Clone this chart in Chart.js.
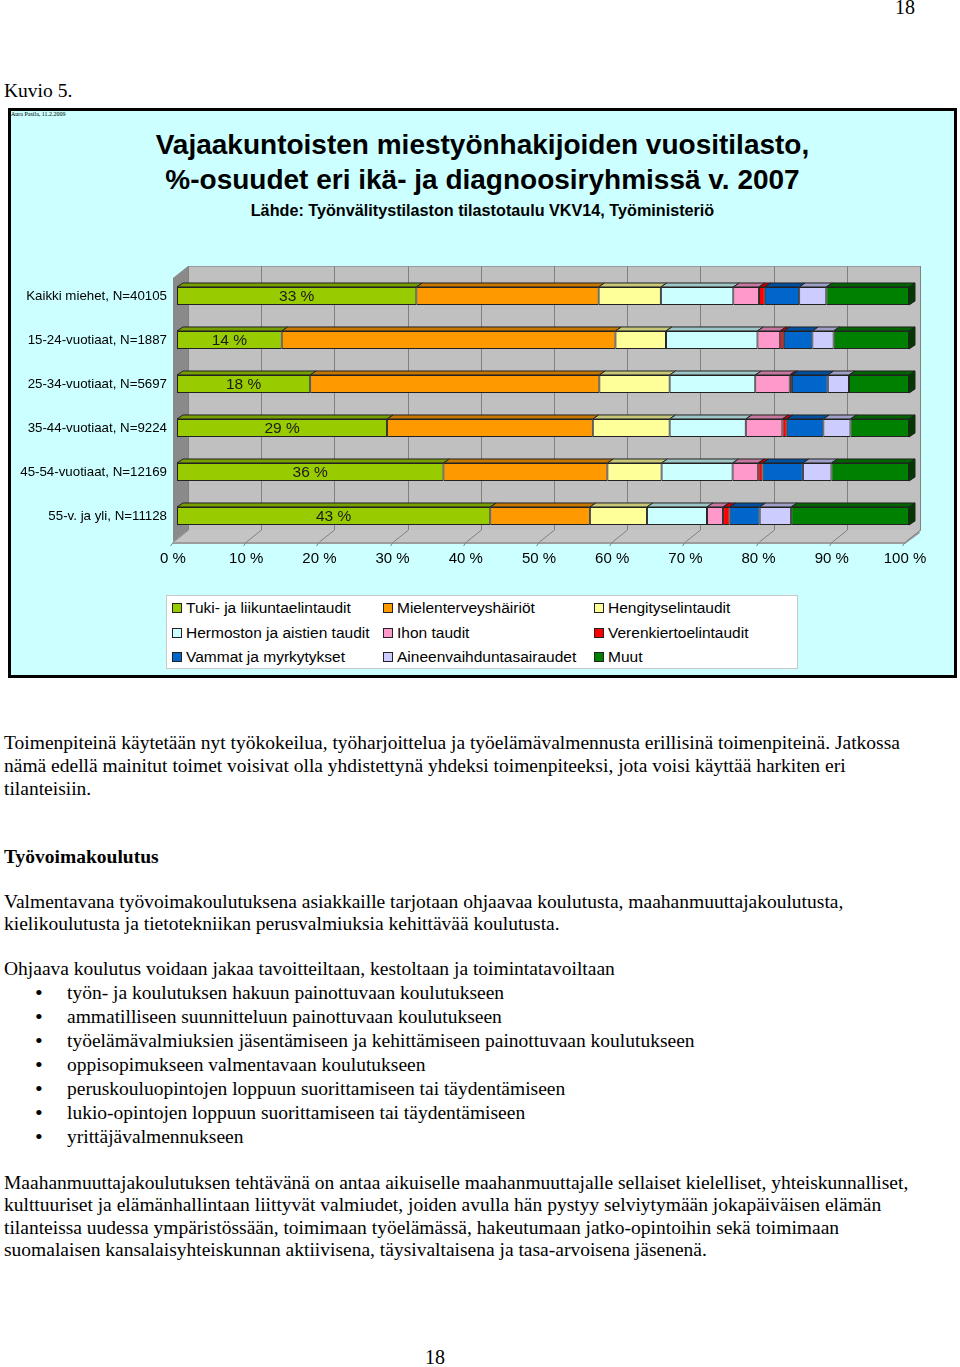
<!DOCTYPE html>
<html>
<head>
<meta charset="utf-8">
<script src="https://cdn.jsdelivr.net/npm/chart.js@4.4.1/dist/chart.umd.min.js"></script>
<style>
  html, body { margin: 0; padding: 0; background: #fff; }
  body { width: 960px; height: 1367px; position: relative; overflow: hidden; font-family: "Liberation Serif", "Times New Roman", serif; color: #000; }
  .abs { position: absolute; white-space: nowrap; }
  .serif { font-family: "Liberation Serif", serif; font-size: 19.5px; line-height: 22px; }
  #box { position: absolute; left: 8px; top: 108px; width: 943px; height: 564px; border: 3px solid #000; background: #CCFFFF; }
  .ttl { position: absolute; left: 0; width: 943px; text-align: center; font-family: "Liberation Sans", Arial, sans-serif; font-weight: bold; color: #000; }
  #chartWrap { position: absolute; left: 0; top: 230px; width: 960px; height: 360px; }
  #legend { position: absolute; left: 166px; top: 595px; width: 630px; height: 72px; background: #fff; border: 1px solid #c8c8c8; font-family: "Liberation Sans", Arial, sans-serif; font-size: 15.5px; }
  .li { position: absolute; white-space: nowrap; line-height: 18px; }
  .sw { display: inline-block; width: 8px; height: 8px; border: 1px solid #222; margin-right: 4px; vertical-align: 0px; }
</style>
</head>
<body>
<script>
// ---- DATA ----
const categories = [
  'Kaikki miehet, N=40105',
  '15-24-vuotiaat, N=1887',
  '25-34-vuotiaat, N=5697',
  '35-44-vuotiaat, N=9224',
  '45-54-vuotiaat, N=12169',
  '55-v. ja yli, N=11128'
];
const seriesNames = [
  'Tuki- ja liikuntaelintaudit',
  'Mielenterveyshäiriöt',
  'Hengityselintaudit',
  'Hermoston ja aistien taudit',
  'Ihon taudit',
  'Verenkiertoelintaudit',
  'Vammat ja myrkytykset',
  'Aineenvaihduntasairaudet',
  'Muut'
];
const tuki          = [32.7, 14.3, 18.2, 28.7, 36.4, 42.8];
const mielenterveys = [24.9, 45.6, 39.5, 28.1, 22.4, 13.6];
const hengitys      = [8.5, 6.9, 9.6, 10.5, 7.4, 7.8];
const hermosto      = [9.9, 12.5, 11.7, 10.4, 9.7, 8.2];
const iho           = [3.5, 3.1, 4.7, 5.0, 3.5, 2.2];
const verenkierto   = [0.8, 0.5, 0.3, 0.6, 0.6, 0.9];
const vammat        = [4.7, 3.9, 4.9, 5.0, 5.5, 4.1];
const aineenvaihdunta = [3.7, 2.9, 2.9, 3.7, 3.9, 4.3];
const muut          = [11.3, 10.3, 8.2, 8.0, 10.6, 16.1];
const seriesColors = ['#99CC00', '#FF9900', '#FFFF99', '#CCFFFF', '#FF99CC', '#FF0000', '#0066CC', '#CCCCFF', '#008000'];
const xTickLabels = ['0 %', '10 %', '20 %', '30 %', '40 %', '50 %', '60 %', '70 %', '80 %', '90 %', '100 %'];
</script>

<div class="abs" style="left:895px; top:-4px; font-size:20px;">18</div>
<div class="abs" style="left:4px; top:80px; font-size:19.5px;">Kuvio 5.</div>

<div id="box">
  <div class="abs" style="left:0px; top:0px; font-size:6px; font-family:'Liberation Serif',serif;">Aura Pasila, 11.2.2009</div>
  <div class="ttl" style="top:17px; font-size:28px; line-height:34px;">Vajaakuntoisten miestyönhakijoiden vuositilasto,</div>
  <div class="ttl" style="top:52px; font-size:28px; line-height:34px;">%-osuudet eri ikä- ja diagnoosiryhmissä v. 2007</div>
  <div class="ttl" style="top:89px; font-size:16.2px; line-height:20px;">Lähde: Työnvälitystilaston tilastotaulu VKV14, Työministeriö</div>
</div>

<div id="chartWrap"><canvas id="c" width="960" height="360"></canvas></div>
<div id="legend"></div>

<div class="abs serif" style="left:4px; top:732px;">Toimenpiteinä käytetään nyt työkokeilua, työharjoittelua ja työelämävalmennusta erillisinä toimenpiteinä. Jatkossa</div>
<div class="abs serif" style="left:4px; top:755px;">nämä edellä mainitut toimet voisivat olla yhdistettynä yhdeksi toimenpiteeksi, jota voisi käyttää harkiten eri</div>
<div class="abs serif" style="left:4px; top:778px;">tilanteisiin.</div>

<div class="abs serif" style="left:4px; top:846px; font-weight:bold;">Työvoimakoulutus</div>

<div class="abs serif" style="left:4px; top:891px;">Valmentavana työvoimakoulutuksena asiakkaille tarjotaan ohjaavaa koulutusta, maahanmuuttajakoulutusta,</div>
<div class="abs serif" style="left:4px; top:913px;">kielikoulutusta ja tietotekniikan perusvalmiuksia kehittävää koulutusta.</div>

<div class="abs serif" style="left:4px; top:958px;">Ohjaava koulutus voidaan jakaa tavoitteiltaan, kestoltaan ja toimintatavoiltaan</div>
<div id="bullets"></div>

<div class="abs serif" style="left:4px; top:1172px;">Maahanmuuttajakoulutuksen tehtävänä on antaa aikuiselle maahanmuuttajalle sellaiset kielelliset, yhteiskunnalliset,</div>
<div class="abs serif" style="left:4px; top:1194px;">kulttuuriset ja elämänhallintaan liittyvät valmiudet, joiden avulla hän pystyy selviytymään jokapäiväisen elämän</div>
<div class="abs serif" style="left:4px; top:1217px;">tilanteissa uudessa ympäristössään, toimimaan työelämässä, hakeutumaan jatko-opintoihin sekä toimimaan</div>
<div class="abs serif" style="left:4px; top:1239px;">suomalaisen kansalaisyhteiskunnan aktiivisena, täysivaltaisena ja tasa-arvoisena jäsenenä.</div>

<div class="abs" style="left:425px; top:1346px; font-size:20px;">18</div>

<script>
// bullets
const bulletItems = [
  'työn- ja koulutuksen hakuun painottuvaan koulutukseen',
  'ammatilliseen suunnitteluun painottuvaan koulutukseen',
  'työelämävalmiuksien jäsentämiseen ja kehittämiseen painottuvaan koulutukseen',
  'oppisopimukseen valmentavaan koulutukseen',
  'peruskouluopintojen loppuun suorittamiseen tai täydentämiseen',
  'lukio-opintojen loppuun suorittamiseen tai täydentämiseen',
  'yrittäjävalmennukseen'
];
const bdiv = document.getElementById('bullets');
bulletItems.forEach((t, i) => {
  const top = 982 + i * 24;
  const b = document.createElement('div');
  b.className = 'abs serif'; b.style.left = '35px'; b.style.top = top + 'px'; b.textContent = '•';
  b.style.fontSize = '22px';
  bdiv.appendChild(b);
  const d = document.createElement('div');
  d.className = 'abs serif'; d.style.left = '67px'; d.style.top = top + 'px'; d.textContent = t;
  bdiv.appendChild(d);
});

// legend (HTML, from the series arrays)
const leg = document.getElementById('legend');
const colX = [5, 216, 427];
seriesNames.forEach((n, i) => {
  const col = i % 3, row = Math.floor(i / 3);
  const el = document.createElement('div');
  el.className = 'li';
  el.style.left = colX[col] + 'px';
  el.style.top = (3 + row * 24.5) + 'px';
  el.innerHTML = '<span class="sw" style="background:' + seriesColors[i] + '"></span>' + n;
  leg.appendChild(el);
});

function shade(hex, f) {
  const n = parseInt(hex.slice(1), 16);
  const r = Math.round(((n >> 16) & 255) * f), g = Math.round(((n >> 8) & 255) * f), b = Math.round((n & 255) * f);
  return 'rgb(' + r + ',' + g + ',' + b + ')';
}

const DX = 6, DY = -4;      // bar depth
const WX = 11, WY = -8;     // back wall offset
const FX = -4, FY = 4;      // floor front offset

const scene3d = {
  id: 'scene3d',
  beforeDatasetsDraw(chart) {
    const ctx = chart.ctx, xs = chart.scales.x, a = chart.chartArea;
    const x0 = xs.getPixelForValue(0), x1 = xs.getPixelForValue(100);
    const top = a.top, bot = a.bottom;
    ctx.save();
    ctx.fillStyle = '#C0C0C0';
    ctx.fillRect(x0 + WX, top + WY, x1 - x0, bot - top);
    ctx.strokeStyle = '#9a9a9a'; ctx.lineWidth = 1;
    ctx.strokeRect(x0 + WX + 0.5, top + WY + 0.5, x1 - x0, bot - top);
    ctx.fillStyle = '#8A8A8A';
    ctx.beginPath();
    ctx.moveTo(x0 + FX, top + FY);
    ctx.lineTo(x0 + WX, top + WY);
    ctx.lineTo(x0 + WX, bot + WY);
    ctx.lineTo(x0 + FX, bot + FY);
    ctx.closePath(); ctx.fill();
    ctx.fillStyle = '#C4C4C4';
    ctx.beginPath();
    ctx.moveTo(x0 + FX, bot + FY);
    ctx.lineTo(x0 + WX, bot + WY);
    ctx.lineTo(x1 + WX, bot + WY);
    ctx.lineTo(x1 + FX, bot + FY);
    ctx.closePath(); ctx.fill();
    ctx.fillStyle = '#9C9C9C';
    ctx.beginPath();
    ctx.moveTo(x0 + FX, bot + FY);
    ctx.lineTo(x1 + FX, bot + FY);
    ctx.lineTo(x1 + WX - 1, bot + WY + 1);
    ctx.lineTo(x1 + WX, bot + WY + 3);
    ctx.lineTo(x1 + FX, bot + FY + 2);
    ctx.lineTo(x0 + FX, bot + FY + 2);
    ctx.closePath(); ctx.fill();
    ctx.strokeStyle = '#808080'; ctx.lineWidth = 1;
    xs.ticks.forEach(t => {
      const x = Math.round(xs.getPixelForValue(t.value));
      ctx.beginPath();
      ctx.moveTo(x + WX + 0.5, top + WY);
      ctx.lineTo(x + WX + 0.5, bot + WY);
      ctx.lineTo(x + FX + 0.5, bot + FY);
      ctx.lineTo(x + FX - 3 + 0.5, bot + FY + 4);
      ctx.stroke();
    });
    ctx.restore();
  },
  afterDatasetsDraw(chart) {
    const ctx = chart.ctx;
    const last = chart.data.datasets.length - 1;
    ctx.save();
    ctx.lineWidth = 1; ctx.strokeStyle = '#222';
    chart.data.datasets.forEach((ds, di) => {
      const meta = chart.getDatasetMeta(di);
      meta.data.forEach(el => {
        const p = el.getProps(['x', 'base', 'y', 'height'], true);
        const l = Math.min(p.x, p.base), r = Math.max(p.x, p.base);
        const t = p.y - p.height / 2, b = p.y + p.height / 2;
        if (r - l < 0.1) return;
        ctx.fillStyle = shade(ds.backgroundColor, 0.78);
        ctx.beginPath();
        ctx.moveTo(l, t); ctx.lineTo(l + DX, t + DY); ctx.lineTo(r + DX, t + DY); ctx.lineTo(r, t);
        ctx.closePath(); ctx.fill(); ctx.stroke();
        if (di === last) {
          ctx.fillStyle = shade(ds.backgroundColor, 0.45);
          ctx.beginPath();
          ctx.moveTo(r, t); ctx.lineTo(r + DX, t + DY); ctx.lineTo(r + DX, b + DY); ctx.lineTo(r, b);
          ctx.closePath(); ctx.fill(); ctx.stroke();
        }
      });
    });
    const meta0 = chart.getDatasetMeta(0);
    ctx.font = '15.5px "Liberation Sans", Arial, sans-serif';
    ctx.fillStyle = '#1a1a1a';
    ctx.textAlign = 'center'; ctx.textBaseline = 'middle';
    meta0.data.forEach((el, i) => {
      const p = el.getProps(['x', 'base', 'y'], true);
      ctx.fillText(Math.round(tuki[i]) + ' %', (p.x + p.base) / 2, p.y + 1);
    });
    ctx.restore();
  }
};

const seriesData = [tuki, mielenterveys, hengitys, hermosto, iho, verenkierto, vammat, aineenvaihdunta, muut];

new Chart(document.getElementById('c'), {
  type: 'bar',
  data: {
    labels: categories,
    datasets: seriesNames.map((n, i) => ({
      label: n,
      data: seriesData[i],
      backgroundColor: seriesColors[i],
      borderColor: '#222',
      borderWidth: 1,
      borderSkipped: false,
      barPercentage: 0.41,
      categoryPercentage: 1
    }))
  },
  options: {
    indexAxis: 'y',
    responsive: false,
    animation: false,
    layout: { padding: { top: 44, right: 51, left: 0, bottom: 0 } },
    plugins: { legend: { display: false }, tooltip: { enabled: false }, title: { display: false } },
    scales: {
      x: {
        stacked: true, min: 0, max: 100,
        border: { display: false },
        grid: { display: false, drawTicks: false },
        ticks: {
          stepSize: 10, padding: 12, labelOffset: -4, color: '#000',
          font: { family: '"Liberation Sans", Arial, sans-serif', size: 15 },
          callback: (v, idx) => xTickLabels[idx]
        },
        afterFit: s => { s.height = 52; }
      },
      y: {
        stacked: true,
        border: { display: false },
        grid: { display: false, drawTicks: false },
        ticks: {
          padding: 10, color: '#000',
          font: { family: '"Liberation Sans", Arial, sans-serif', size: 13.3 }
        },
        afterFit: s => { s.width = 177; }
      }
    }
  },
  plugins: [scene3d]
});
</script>
</body>
</html>
